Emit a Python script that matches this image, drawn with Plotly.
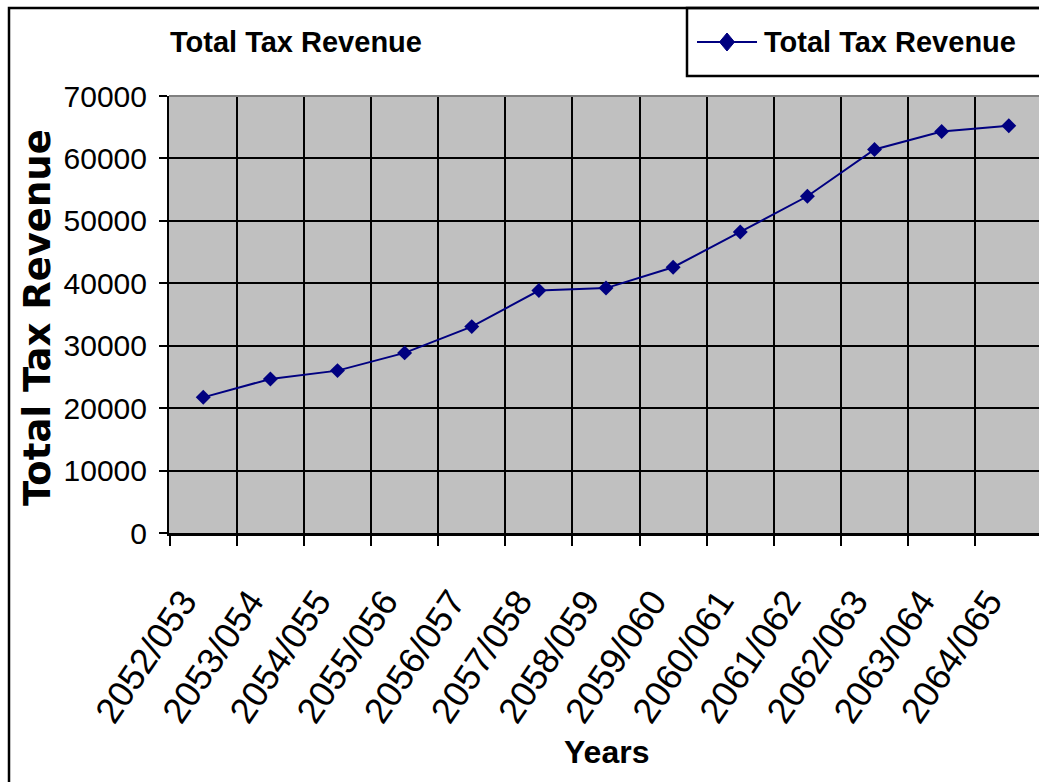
import plotly.graph_objects as go

# Fiscal years and total tax revenue
years = ["2052/053", "2053/054", "2054/055", "2055/056", "2056/057", "2057/058",
         "2058/059", "2059/060", "2060/061", "2061/062", "2062/063", "2063/064",
         "2064/065"]
revenue = [21730, 24680, 26010, 28850, 33060, 38830, 39230, 42570, 48230,
           53940, 61430, 64310, 65220]
y_ticks = [0, 10000, 20000, 30000, 40000, 50000, 60000, 70000]
series_name = "Total Tax Revenue"

W, H = 1039, 782
L, R, T, B = 169, 0, 96, 249
PW, PH = W - L - R, H - T - B

ARIAL = "Liberation Sans, Arial, sans-serif"
NAVY = "#000080"


def px(x):
    return (x - L) / PW


def py(y):
    return (H - B - y) / PH


fig = go.Figure()
fig.add_trace(go.Scatter(
    x=years, y=revenue, mode="lines+markers", name=series_name,
    line=dict(color=NAVY, width=2),
    marker=dict(symbol="diamond", size=11.5, color=NAVY),
    showlegend=False,
))

# legend key: short line with a diamond, drawn in paper space
kx0, kx1, ky = px(697), px(757), py(42)
kc = px(727)
dx, dy = 7.5 / PW, 9.0 / PH
legend_shapes = [
    dict(type="line", xref="paper", yref="paper", x0=kx0, x1=kx1, y0=ky, y1=ky,
         line=dict(color=NAVY, width=2)),
    dict(type="path", xref="paper", yref="paper",
         path=f"M {kc - dx} {ky} L {kc} {ky + dy} L {kc + dx} {ky} L {kc} {ky - dy} Z",
         fillcolor=NAVY, line=dict(color=NAVY, width=1)),
]

fig.update_layout(
    width=W, height=H,
    margin=dict(l=L, r=R, t=T, b=B, pad=0),
    paper_bgcolor="white",
    plot_bgcolor="#C0C0C0",
    font=dict(family=ARIAL, color="black"),
    showlegend=False,
    xaxis=dict(
        type="category", range=[-0.51, 12.45],
        tickson="boundaries", ticks="outside", ticklen=10, tickwidth=2,
        tickcolor="black", showline=True, linecolor="black", linewidth=3,
        showgrid=True, gridcolor="black", gridwidth=2,
        tickangle=-56, tickfont=dict(family=ARIAL, size=36, color="black"),
        ticklabelstandoff=30, ticklabelshift=-20, fixedrange=True,
    ),
    yaxis=dict(
        range=[0, 70000], tickvals=y_ticks, ticktext=[str(v) for v in y_ticks],
        ticks="outside", ticklen=8, tickwidth=2, tickcolor="black",
        showline=True, linecolor="black", linewidth=2,
        showgrid=True, gridcolor="black", gridwidth=2, zeroline=False,
        tickfont=dict(family=ARIAL, size=30, color="black"),
        ticklabelstandoff=6, fixedrange=True,
    ),
    annotations=[
        dict(text="<b>Total Tax Revenue</b>", xref="paper", yref="paper",
             x=px(296), y=py(42), xanchor="center", yanchor="middle",
             showarrow=False, font=dict(family=ARIAL, size=29, color="black")),
        dict(text=f"<b>{series_name}</b>", xref="paper", yref="paper",
             x=px(762), y=py(42), xanchor="left", yanchor="middle",
             showarrow=False, font=dict(family=ARIAL, size=29, color="black")),
        dict(text="<b>Total Tax Revenue</b>", xref="paper", yref="paper",
             x=px(37), y=py(318), xanchor="center", yanchor="middle",
             textangle=-90, showarrow=False,
             font=dict(family="DejaVu Sans", size=37, color="black")),
        dict(text="<b>Years</b>", xref="paper", yref="paper",
             x=px(606), y=py(752), xanchor="center", yanchor="middle",
             showarrow=False, font=dict(family=ARIAL, size=32, color="black")),
    ],
    shapes=[
        # chart frame
        dict(type="rect", xref="paper", yref="paper",
             x0=px(9), y0=py(8), x1=px(1080), y1=py(820),
             line=dict(color="black", width=2.5), fillcolor="rgba(0,0,0,0)"),
        # legend frame
        dict(type="rect", xref="paper", yref="paper",
             x0=px(687), y0=py(8), x1=px(1080), y1=py(76),
             line=dict(color="black", width=2.5), fillcolor="rgba(0,0,0,0)"),
        # plot area top border
        dict(type="line", xref="paper", yref="paper", x0=0, x1=1, y0=1, y1=1,
             line=dict(color="#808080", width=2)),
    ] + legend_shapes,
)

fig.write_html("out.html", config={"displayModeBar": False})
